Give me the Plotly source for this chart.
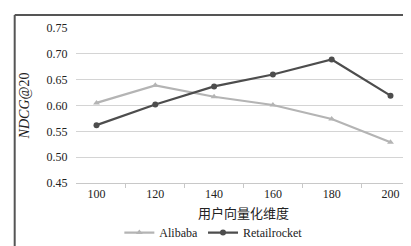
import plotly.graph_objects as go

dims = ["100", "120", "140", "160", "180", "200"]
alibaba = [0.605, 0.639, 0.617, 0.601, 0.574, 0.529]
retailrocket = [0.562, 0.602, 0.637, 0.660, 0.689, 0.619]
y_ticks = [0.45, 0.50, 0.55, 0.60, 0.65, 0.70, 0.75]

serif = "Liberation Serif"

fig = go.Figure()
fig.add_trace(go.Scatter(
    x=dims, y=alibaba, name="Alibaba", mode="lines+markers",
    line=dict(color="#b4b4b4", width=2.2),
    marker=dict(symbol="triangle-up", size=6, color="#b4b4b4"),
))
fig.add_trace(go.Scatter(
    x=dims, y=retailrocket, name="Retailrocket", mode="lines+markers",
    line=dict(color="#4d4d4d", width=2.2),
    marker=dict(symbol="circle", size=6, color="#4d4d4d"),
))

fig.update_layout(
    width=411, height=246,
    margin=dict(l=68, r=8, t=20, b=71, autoexpand=False),
    paper_bgcolor="white", plot_bgcolor="white",
    font=dict(family=serif, size=12, color="#222"),
    showlegend=True,
    legend=dict(orientation="h", x=0.41, xanchor="center", y=-0.32, yanchor="middle",
                font=dict(family=serif, size=12), itemwidth=30, tracegroupgap=0),
    xaxis=dict(
        type="category", tickson="boundaries", ticks="outside", ticklen=4,
        tickcolor="#c8c8c8", showline=True, linecolor="#c8c8c8", linewidth=1,
        showgrid=False,
        tickfont=dict(family=serif, size=12, color="#222"),
        title=dict(text="用户向量化维度", font=dict(family="Noto Sans CJK SC", size=13, color="#222"),
                   standoff=8),
    ),
    yaxis=dict(
        range=[0.45, 0.75], tickvals=y_ticks, ticktext=[f"{v:.2f}" for v in y_ticks],
        showgrid=True, gridcolor="#d4d4d4", gridwidth=1, zeroline=False,
        ticks="outside", ticklen=5, tickcolor="white",
        tickfont=dict(family=serif, size=12, color="#222"),
        title=dict(text="<i>NDCG</i>@20", font=dict(family=serif, size=14, color="#222"),
                   standoff=13),
    ),
)

fig.add_shape(type="line", xref="paper", yref="paper", x0=-0.183, x1=-0.183, y0=-0.5, y1=1.084,
              line=dict(color="#555", width=2))
fig.add_shape(type="line", xref="paper", yref="paper", x0=-0.183, x1=1.03, y0=1.084, y1=1.084,
              line=dict(color="#555", width=2))

fig.write_html("out.html")
